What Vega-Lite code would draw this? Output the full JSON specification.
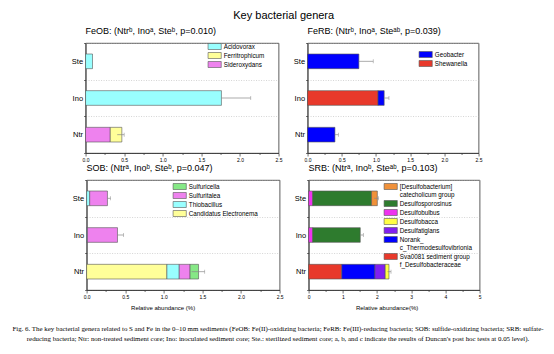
{
  "$schema": "https://vega.github.io/schema/vega-lite/v6.json",
  "padding": {"top": 9, "left": 12, "right": 0, "bottom": 5},
  "title": {"text": "Key bacterial genera", "fontSize": 11, "anchor": "middle", "frame": "bounds", "offset": 6},
  "resolve": {"scale": {"color": "independent", "x": "independent", "y": "independent"}, "legend": {"color": "independent"}},
  "datasets": {
    "feob": [
      {"core": "Ste", "genus": "Acidovorax", "value": 0.09, "k": 3},
      {"core": "Ino", "genus": "Acidovorax", "value": 1.76, "k": 3},
      {"core": "Ntr", "genus": "Sideroxydans", "value": 0.32, "k": 1},
      {"core": "Ntr", "genus": "Ferritrophicum", "value": 0.15, "k": 2}
    ],
    "feob_err": [
      {"core": "Ino", "lo": 1.76, "hi": 2.14},
      {"core": "Ntr", "lo": 0.41, "hi": 0.5}
    ],
    "ferb": [
      {"core": "Ste", "genus": "Geobacter", "value": 0.75, "k": 2},
      {"core": "Ino", "genus": "Shewanella", "value": 1.03, "k": 1},
      {"core": "Ino", "genus": "Geobacter", "value": 0.09, "k": 2},
      {"core": "Ntr", "genus": "Geobacter", "value": 0.4, "k": 2}
    ],
    "ferb_err": [
      {"core": "Ste", "lo": 0.75, "hi": 0.96},
      {"core": "Ino", "lo": 1.12, "hi": 1.19},
      {"core": "Ntr", "lo": 0.4, "hi": 0.45}
    ],
    "sob": [
      {"core": "Ste", "genus": "Thiobacillus", "value": 0.04, "k": 2},
      {"core": "Ste", "genus": "Sulfuritalea", "value": 0.23, "k": 3},
      {"core": "Ino", "genus": "Thiobacillus", "value": 0.01, "k": 2},
      {"core": "Ino", "genus": "Sulfuritalea", "value": 0.39, "k": 3},
      {"core": "Ntr", "genus": "Candidatus Electronema", "value": 1.04, "k": 1},
      {"core": "Ntr", "genus": "Thiobacillus", "value": 0.16, "k": 2},
      {"core": "Ntr", "genus": "Sulfuritalea", "value": 0.14, "k": 3},
      {"core": "Ntr", "genus": "Sulfuricella", "value": 0.11, "k": 4}
    ],
    "sob_err": [
      {"core": "Ste", "lo": 0.27, "hi": 0.31},
      {"core": "Ino", "lo": 0.4, "hi": 0.48},
      {"core": "Ntr", "lo": 1.36, "hi": 1.53}
    ],
    "srb": [
      {"core": "Ste", "genus": "Desulfobulbus", "value": 0.12, "k": 5},
      {"core": "Ste", "genus": "Desulfosporosinus", "value": 1.72, "k": 6},
      {"core": "Ste", "genus": "[Desulfobacterium]|catecholicum group", "value": 0.17, "k": 7},
      {"core": "Ino", "genus": "Desulfobulbus", "value": 0.12, "k": 5},
      {"core": "Ino", "genus": "Desulfosporosinus", "value": 1.39, "k": 6},
      {"core": "Ntr", "genus": "Sva0081 sediment group|f_Desulfobacteraceae", "value": 0.97, "k": 1},
      {"core": "Ntr", "genus": "Norank_|c_Thermodesulfovibrionia", "value": 0.97, "k": 2},
      {"core": "Ntr", "genus": "Desulfatiglans", "value": 0.3, "k": 3},
      {"core": "Ntr", "genus": "Desulfobacca", "value": 0.11, "k": 4}
    ],
    "srb_err": [
      {"core": "Ste", "lo": 1.92, "hi": 2.04},
      {"core": "Ino", "lo": 1.51, "hi": 1.6},
      {"core": "Ntr", "lo": 2.31, "hi": 2.41}
    ],
    "caption": [
      {"line": 1, "text": "Fig. 6. The key bacterial genera related to S and Fe in the 0–10 mm sediments (FeOB: Fe(II)-oxidizing bacteria; FeRB: Fe(III)-reducing bacteria; SOB: sulfide-oxidizing bacteria; SRB: sulfate-"},
      {"line": 2, "text": "reducing bacteria; Ntr: non-treated sediment core; Ino: inoculated sediment core; Ste.: sterilized sediment core; a, b, and c indicate the results of Duncan's post hoc tests at 0.05 level)."}
    ]
  },
  "center": true,
  "spacing": 0,
  "vconcat": [
    {
      "resolve": {"scale": {"color": "independent", "x": "independent", "y": "independent"}, "legend": {"color": "independent"}},
      "hconcat": [
        {
          "width": 193, "height": 110,
          "title": {"text": "FeOB: (Ntrᵇ,  Inoᵃ, Steᵇ, p=0.010)"},
          "layer": [
            {
              "data": {"name": "feob"},
              "mark": {"type": "bar", "height": {"band": 0.4}, "stroke": "#555", "strokeWidth": 0.6},
              "encoding": {
                "y": {"field": "core", "type": "nominal", "sort": ["Ste", "Ino", "Ntr"], "title": null, "scale": {"paddingInner": 0, "paddingOuter": 0}},
                "x": {"field": "value", "type": "quantitative", "stack": "zero", "title": null,
                      "scale": {"domain": [0, 2.5], "nice": false},
                      "axis": {"labelOverlap": false, "values": [0, 0.25, 0.5, 0.75, 1, 1.25, 1.5, 1.75, 2, 2.25, 2.5], "labelExpr": "datum.value % 0.5 == 0 ? format(datum.value, '.1f') : ''", "tickSize": {"condition": {"test": "datum.value % 0.5 == 0", "value": 3}, "value": 1.5}}},
                "color": {"field": "genus", "type": "nominal",
                          "scale": {"domain": ["Acidovorax", "Ferritrophicum", "Sideroxydans"], "range": ["#99FFFF", "#FFFF99", "#EE82EE"]},
                          "legend": {"orient": "none", "legendX": 122, "legendY": 0}},
                "order": {"field": "k"}
              }
            },
            {
              "data": {"name": "feob_err"},
              "mark": {"type": "rule", "color": "#888", "strokeWidth": 0.7},
              "encoding": {
                "y": {"field": "core", "type": "nominal", "sort": ["Ste", "Ino", "Ntr"], "title": null},
                "x": {"field": "lo", "type": "quantitative", "title": null,
                      "axis": {"labelOverlap": false, "values": [0, 0.25, 0.5, 0.75, 1, 1.25, 1.5, 1.75, 2, 2.25, 2.5], "labelExpr": "datum.value % 0.5 == 0 ? format(datum.value, '.1f') : ''", "tickSize": {"condition": {"test": "datum.value % 0.5 == 0", "value": 3}, "value": 1.5}}},
                "x2": {"field": "hi"}
              }
            },
            {
              "data": {"name": "feob_err"},
              "mark": {"type": "tick", "color": "#888", "thickness": 0.7, "size": 4},
              "encoding": {
                "y": {"field": "core", "type": "nominal", "sort": ["Ste", "Ino", "Ntr"], "title": null},
                "x": {"field": "hi", "type": "quantitative", "title": null,
                      "axis": {"labelOverlap": false, "values": [0, 0.25, 0.5, 0.75, 1, 1.25, 1.5, 1.75, 2, 2.25, 2.5], "labelExpr": "datum.value % 0.5 == 0 ? format(datum.value, '.1f') : ''", "tickSize": {"condition": {"test": "datum.value % 0.5 == 0", "value": 3}, "value": 1.5}}}
              }
            }
          ]
        },
        {
          "width": 171, "height": 110,
          "title": {"text": "FeRB: (Ntrᵇ,  Inoᵃ, Steᵃᵇ, p=0.039)"},
          "layer": [
            {
              "data": {"name": "ferb"},
              "mark": {"type": "bar", "height": {"band": 0.4}, "stroke": "#555", "strokeWidth": 0.6},
              "encoding": {
                "y": {"field": "core", "type": "nominal", "sort": ["Ste", "Ino", "Ntr"], "title": null, "scale": {"paddingInner": 0, "paddingOuter": 0}},
                "x": {"field": "value", "type": "quantitative", "stack": "zero", "title": null,
                      "scale": {"domain": [0, 2.5], "nice": false},
                      "axis": {"labelOverlap": false, "values": [0, 0.25, 0.5, 0.75, 1, 1.25, 1.5, 1.75, 2, 2.25, 2.5], "labelExpr": "datum.value % 0.5 == 0 ? format(datum.value, '.1f') : ''", "tickSize": {"condition": {"test": "datum.value % 0.5 == 0", "value": 3}, "value": 1.5}}},
                "color": {"field": "genus", "type": "nominal",
                          "scale": {"domain": ["Geobacter", "Shewanella"], "range": ["#0000FF", "#E8392B"]},
                          "legend": {"orient": "none", "legendX": 111, "legendY": 8}},
                "order": {"field": "k"}
              }
            },
            {
              "data": {"name": "ferb_err"},
              "mark": {"type": "rule", "color": "#888", "strokeWidth": 0.7},
              "encoding": {
                "y": {"field": "core", "type": "nominal", "sort": ["Ste", "Ino", "Ntr"], "title": null},
                "x": {"field": "lo", "type": "quantitative", "title": null,
                      "axis": {"labelOverlap": false, "values": [0, 0.25, 0.5, 0.75, 1, 1.25, 1.5, 1.75, 2, 2.25, 2.5], "labelExpr": "datum.value % 0.5 == 0 ? format(datum.value, '.1f') : ''", "tickSize": {"condition": {"test": "datum.value % 0.5 == 0", "value": 3}, "value": 1.5}}},
                "x2": {"field": "hi"}
              }
            },
            {
              "data": {"name": "ferb_err"},
              "mark": {"type": "tick", "color": "#888", "thickness": 0.7, "size": 4},
              "encoding": {
                "y": {"field": "core", "type": "nominal", "sort": ["Ste", "Ino", "Ntr"], "title": null},
                "x": {"field": "hi", "type": "quantitative", "title": null,
                      "axis": {"labelOverlap": false, "values": [0, 0.25, 0.5, 0.75, 1, 1.25, 1.5, 1.75, 2, 2.25, 2.5], "labelExpr": "datum.value % 0.5 == 0 ? format(datum.value, '.1f') : ''", "tickSize": {"condition": {"test": "datum.value % 0.5 == 0", "value": 3}, "value": 1.5}}}
              }
            }
          ]
        }
      ],
      "spacing": 10
    },
    {
      "resolve": {"scale": {"color": "independent", "x": "independent", "y": "independent"}, "legend": {"color": "independent"}},
      "hconcat": [
        {
          "width": 193, "height": 110,
          "title": {"text": "SOB: (Ntrᵃ,  Inoᵇ, Steᵇ, p=0.047)"},
          "layer": [
            {
              "data": {"name": "sob"},
              "mark": {"type": "bar", "height": {"band": 0.4}, "stroke": "#555", "strokeWidth": 0.6},
              "encoding": {
                "y": {"field": "core", "type": "nominal", "sort": ["Ste", "Ino", "Ntr"], "title": null, "scale": {"paddingInner": 0, "paddingOuter": 0}},
                "x": {"field": "value", "type": "quantitative", "stack": "zero", "title": "Relative abundance (%)",
                      "scale": {"domain": [0, 2.5], "nice": false},
                      "axis": {"titleX": 76, "labelOverlap": false, "values": [0, 0.25, 0.5, 0.75, 1, 1.25, 1.5, 1.75, 2, 2.25, 2.5], "labelExpr": "datum.value % 0.5 == 0 ? format(datum.value, '.1f') : ''", "tickSize": {"condition": {"test": "datum.value % 0.5 == 0", "value": 3}, "value": 1.5}}},
                "color": {"field": "genus", "type": "nominal",
                          "scale": {"domain": ["Sulfuricella", "Sulfuritalea", "Thiobacillus", "Candidatus Electronema"], "range": ["#86E886", "#EE82EE", "#99FFFF", "#FFFF99"]},
                          "legend": {"orient": "none", "legendX": 86, "legendY": 3}},
                "order": {"field": "k"}
              }
            },
            {
              "data": {"name": "sob_err"},
              "mark": {"type": "rule", "color": "#888", "strokeWidth": 0.7},
              "encoding": {
                "y": {"field": "core", "type": "nominal", "sort": ["Ste", "Ino", "Ntr"], "title": null},
                "x": {"field": "lo", "type": "quantitative", "title": "Relative abundance (%)",
                      "axis": {"titleX": 76, "labelOverlap": false, "values": [0, 0.25, 0.5, 0.75, 1, 1.25, 1.5, 1.75, 2, 2.25, 2.5], "labelExpr": "datum.value % 0.5 == 0 ? format(datum.value, '.1f') : ''", "tickSize": {"condition": {"test": "datum.value % 0.5 == 0", "value": 3}, "value": 1.5}}},
                "x2": {"field": "hi"}
              }
            },
            {
              "data": {"name": "sob_err"},
              "mark": {"type": "tick", "color": "#888", "thickness": 0.7, "size": 4},
              "encoding": {
                "y": {"field": "core", "type": "nominal", "sort": ["Ste", "Ino", "Ntr"], "title": null},
                "x": {"field": "hi", "type": "quantitative", "title": "Relative abundance (%)",
                      "axis": {"titleX": 76, "labelOverlap": false, "values": [0, 0.25, 0.5, 0.75, 1, 1.25, 1.5, 1.75, 2, 2.25, 2.5], "labelExpr": "datum.value % 0.5 == 0 ? format(datum.value, '.1f') : ''", "tickSize": {"condition": {"test": "datum.value % 0.5 == 0", "value": 3}, "value": 1.5}}}
              }
            }
          ]
        },
        {
          "width": 171, "height": 110,
          "title": {"text": "SRB: (Ntrᵃ,  Inoᵇ, Steᵃᵇ, p=0.103)"},
          "layer": [
            {
              "data": {"name": "srb"},
              "mark": {"type": "bar", "height": {"band": 0.4}, "stroke": "#555", "strokeWidth": 0.6},
              "encoding": {
                "y": {"field": "core", "type": "nominal", "sort": ["Ste", "Ino", "Ntr"], "title": null, "scale": {"paddingInner": 0, "paddingOuter": 0}},
                "x": {"field": "value", "type": "quantitative", "stack": "zero", "title": "Relative abundance(%)",
                      "scale": {"domain": [0, 5], "nice": false},
                      "axis": {"titleX": 78, "labelOverlap": false, "values": [0, 0.5, 1, 1.5, 2, 2.5, 3, 3.5, 4, 4.5, 5], "labelExpr": "datum.value % 1 == 0 ? format(datum.value, 'd') : ''", "tickSize": {"condition": {"test": "datum.value % 1 == 0", "value": 3}, "value": 1.5}}},
                "color": {"field": "genus", "type": "nominal",
                          "scale": {"domain": ["[Desulfobacterium]|catecholicum group", "Desulfosporosinus", "Desulfobulbus", "Desulfobacca", "Desulfatiglans", "Norank_|c_Thermodesulfovibrionia", "Sva0081 sediment group|f_Desulfobacteraceae"],
                                    "range": ["#F0913A", "#2E7B2E", "#EE33EE", "#FFFF44", "#8020F0", "#0000FF", "#E8392B"]},
                          "legend": {"orient": "none", "legendX": 75, "legendY": 3, "labelExpr": "split(datum.label, '|')"}},
                "order": {"field": "k"}
              }
            },
            {
              "data": {"name": "srb_err"},
              "mark": {"type": "rule", "color": "#888", "strokeWidth": 0.7},
              "encoding": {
                "y": {"field": "core", "type": "nominal", "sort": ["Ste", "Ino", "Ntr"], "title": null},
                "x": {"field": "lo", "type": "quantitative", "title": "Relative abundance(%)",
                      "axis": {"titleX": 78, "labelOverlap": false, "values": [0, 0.5, 1, 1.5, 2, 2.5, 3, 3.5, 4, 4.5, 5], "labelExpr": "datum.value % 1 == 0 ? format(datum.value, 'd') : ''", "tickSize": {"condition": {"test": "datum.value % 1 == 0", "value": 3}, "value": 1.5}}},
                "x2": {"field": "hi"}
              }
            },
            {
              "data": {"name": "srb_err"},
              "mark": {"type": "tick", "color": "#888", "thickness": 0.7, "size": 4},
              "encoding": {
                "y": {"field": "core", "type": "nominal", "sort": ["Ste", "Ino", "Ntr"], "title": null},
                "x": {"field": "hi", "type": "quantitative", "title": "Relative abundance(%)",
                      "axis": {"titleX": 78, "labelOverlap": false, "values": [0, 0.5, 1, 1.5, 2, 2.5, 3, 3.5, 4, 4.5, 5], "labelExpr": "datum.value % 1 == 0 ? format(datum.value, 'd') : ''", "tickSize": {"condition": {"test": "datum.value % 1 == 0", "value": 3}, "value": 1.5}}}
              }
            }
          ]
        }
      ],
      "spacing": 10
    },
    {
      "width": 542, "height": 32,
      "view": {"stroke": null},
      "data": {"name": "caption"},
      "mark": {"type": "text", "font": "Liberation Serif", "fontSize": 6.9, "color": "#000", "dx": -6},
      "encoding": {
        "y": {"field": "line", "type": "ordinal", "axis": null, "scale": {"padding": 1.5, "align": 0.83}},
        "text": {"field": "text"}
      }
    }
  ],
  "config": {
    "font": "Liberation Sans",
    "view": {"stroke": "#333", "strokeWidth": 0.8},
    "title": {"fontSize": 9, "fontWeight": "normal", "color": "#000", "anchor": "start", "frame": "group", "offset": 3},
    "axis": {
      "domainColor": "#333", "domainWidth": 0.8, "tickColor": "#333", "tickWidth": 0.7,
      "labelColor": "#000", "titleColor": "#000", "titleFontWeight": "normal",
      "labelFont": "Liberation Sans", "titleFont": "Liberation Sans"
    },
    "axisX": {"labelFontSize": 5, "labelPadding": 1, "titleFontSize": 6, "titlePadding": 5, "grid": false, "labelOverlap": false, "labelFlush": false},
    "axisY": {"labelFontSize": 7.5, "labelPadding": 1, "tickSize": 2, "tickBand": "extent", "grid": true, "gridDash": [1, 1.5], "gridColor": "#aaa", "gridWidth": 0.5},
    "legend": {
      "title": null, "padding": 0, "rowPadding": 0, "labelFontSize": 6.3, "labelFont": "Liberation Sans", "labelColor": "#000", "labelOffset": 9.2,
      "symbolType": "M-1,-1H3.4V1H-1Z", "symbolSize": 36, "symbolStrokeColor": "#555", "symbolStrokeWidth": 0.6, "symbolOpacity": 1
    }
  }
}
